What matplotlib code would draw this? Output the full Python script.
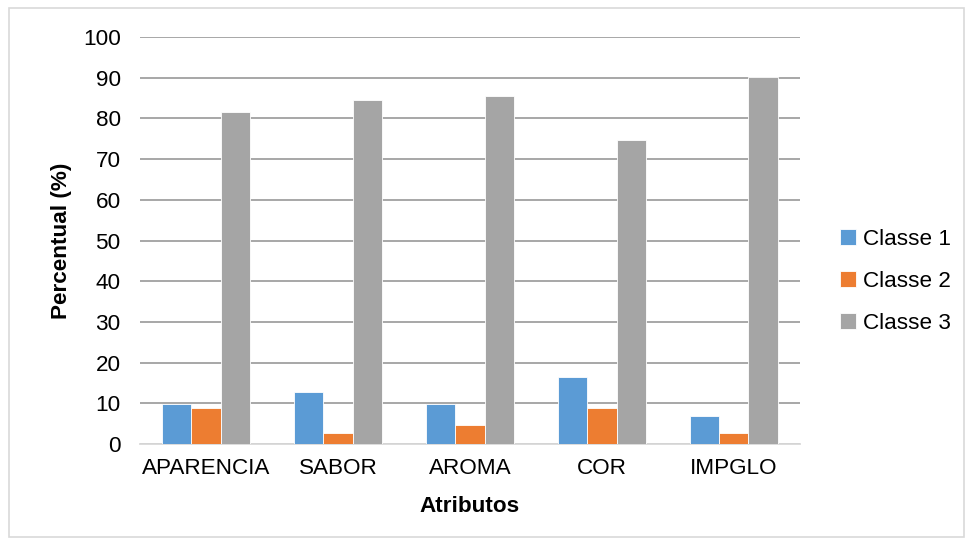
import numpy as np
import matplotlib.pyplot as plt

plt.rcParams['font.family'] = ['Liberation Sans', 'DejaVu Sans']

atributos = ["APARENCIA", "SABOR", "AROMA", "COR", "IMPGLO"]
classe1 = [9.8, 12.7, 9.8, 16.6, 6.8]
classe2 = [8.8, 2.8, 4.8, 8.8, 2.8]
classe3 = [81.5, 84.5, 85.4, 74.7, 90.2]

series = [("Classe 1", classe1, "#5b9bd5"),
          ("Classe 2", classe2, "#ed7d31"),
          ("Classe 3", classe3, "#a5a5a5")]

fig = plt.figure(figsize=(9.73, 5.45), dpi=100)
ax = fig.add_axes([0.144, 0.185, 0.678, 0.747])

x = np.arange(len(atributos))
w = 0.222
for i, (nome, vals, cor) in enumerate(series):
    ax.bar(x + (i - 1) * w, vals, w, color=cor, label=nome,
           edgecolor='white', linewidth=0.6, zorder=3)

ax.set_xlim(-0.5, len(atributos) - 0.5)
ax.set_ylim(0, 100)
ax.set_yticks(range(0, 101, 10))
ax.set_xticks(x)
ax.set_xticklabels(atributos)
ax.tick_params(axis='both', length=0, labelsize=16.2, colors='#000000')
ax.tick_params(axis='x', pad=10)
ax.tick_params(axis='y', pad=14)
ax.grid(axis='y', color='#a0a0a0', linewidth=1.3, zorder=0)

for s in ['top', 'right', 'left']:
    ax.spines[s].set_visible(False)
ax.spines['bottom'].set_color('#d9d9d9')
ax.spines['bottom'].set_linewidth(1.3)

ax.set_ylabel("Percentual (%)", fontsize=16.2, fontweight='bold', labelpad=8)
ax.set_xlabel("Atributos", fontsize=16.2, fontweight='bold', labelpad=12)

ax.legend(loc='center left', bbox_to_anchor=(1.03, 0.4), frameon=False,
          fontsize=16.2, handlelength=0.7, handleheight=0.7,
          handletextpad=0.35, labelspacing=0.92)

# outer chart border
fig.patches.append(plt.Rectangle((0.009, 0.014), 0.982, 0.972, transform=fig.transFigure,
                                 fill=False, edgecolor='#d9d9d9', linewidth=1.2))

fig.savefig("out.png", dpi=100)
